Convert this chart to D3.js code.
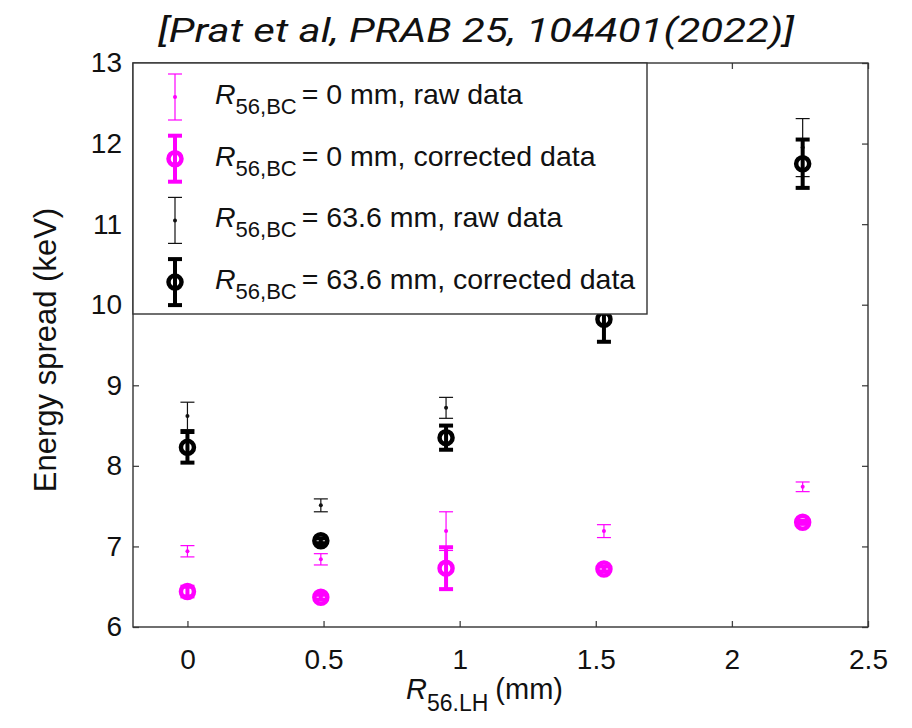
<!doctype html>
<html>
<head>
<meta charset="utf-8">
<title>Energy spread vs R56,LH</title>
<script src="https://cdn.jsdelivr.net/npm/d3@7"></script>
<style>
  body { margin: 0; background: white; }
  svg { display: block; }
  text { font-family: "Liberation Sans", Arial, sans-serif; fill: #111; }
</style>
</head>
<body>
<svg id="chart" width="912" height="728"></svg>
<script>
// data
var xPos = [0, 0.49, 0.95, 1.53, 2.26];
var pinkRaw = [6.94, 6.84, 7.19, 7.19, 7.74];
var pinkRawErr = [0.07, 0.07, 0.24, 0.08, 0.06];
var pinkCorr = [6.44, 6.37, 6.73, 6.72, 7.30];
var pinkCorrErr = [0.06, 0.03, 0.26, 0.03, 0.02];
var blackRaw = [8.62, 7.51, 8.72, 10.3, 11.95];
var blackRawErr = [0.17, 0.08, 0.13, 0.2, 0.36];
var blackCorr = [8.23, 7.07, 8.35, 9.82, 11.75];
var blackCorrErr = [0.19, 0.03, 0.15, 0.28, 0.30];

var xTicks = [0, 0.5, 1, 1.5, 2, 2.5];
var yTicks = [6, 7, 8, 9, 10, 11, 12, 13];
var legendLabels = ['= 0 mm, raw data', '= 0 mm, corrected data', '= 63.6 mm, raw data', '= 63.6 mm, corrected data'];

var PINK = '#ff00ff';
var pLeft = 133, pRight = 868, pTop = 63, pBottom = 627;

var svg = d3.select('#chart');
var x = d3.scaleLinear().domain([-0.2, 2.5]).range([pLeft, pRight]);
var y = d3.scaleLinear().domain([6, 13]).range([pBottom, pTop]);

// title
svg.append('text')
    .attr('x', 476).attr('y', 42)
    .attr('text-anchor', 'middle')
    .attr('textLength', 636)
    .attr('lengthAdjust', 'spacingAndGlyphs')
    .style('font-family', 'Roboto, sans-serif')
    .style('font-style', 'italic')
    .style('font-size', '34px')
    .text('[Prat et al, PRAB 25, 104401(2022)]');

// axes
svg.append('g').attr('transform', 'translate(0,' + pBottom + ')')
    .call(d3.axisBottom(x).tickValues(xTicks).tickSize(-6).tickPadding(22).tickFormat(d3.format('')));
svg.append('g').attr('transform', 'translate(' + pLeft + ',0)')
    .call(d3.axisLeft(y).tickValues(yTicks).tickSize(-6).tickPadding(11).tickFormat(d3.format('')));
svg.append('g').attr('transform', 'translate(0,' + pTop + ')')
    .call(d3.axisTop(x).tickValues(xTicks).tickSize(-6).tickFormat(''));
svg.append('g').attr('transform', 'translate(' + pRight + ',0)')
    .call(d3.axisRight(y).tickValues(yTicks).tickSize(-6).tickFormat(''));

svg.selectAll('.domain').remove();
svg.selectAll('.tick line').attr('stroke', '#444').attr('stroke-width', 1.3);
svg.selectAll('.tick text').style('font-size', '28px').style('font-family', '"Liberation Sans", Arial, sans-serif').attr('fill', '#111');

svg.append('rect')
    .attr('x', pLeft).attr('y', pTop)
    .attr('width', pRight - pLeft).attr('height', pBottom - pTop)
    .attr('fill', 'none').attr('stroke', '#333').attr('stroke-width', 1.4);

// axis titles
svg.append('text')
    .attr('transform', 'translate(56,350) rotate(-90)')
    .attr('text-anchor', 'middle')
    .style('font-size', '31px')
    .text('Energy spread (keV)');

var xt = svg.append('text')
    .attr('x', 406).attr('y', 699)
    .style('font-size', '29px');
xt.append('tspan').style('font-style', 'italic').text('R');
xt.append('tspan').attr('dy', 12).style('font-size', '23px').text('56.LH');
xt.append('tspan').attr('dy', -12).attr('dx', 7).text('(mm)');

// series
var series = [
  { vals: blackRaw, errs: blackRawErr, color: '#111', thick: false },
  { vals: blackCorr, errs: blackCorrErr, color: '#000', thick: true },
  { vals: pinkRaw, errs: pinkRawErr, color: PINK, thick: false },
  { vals: pinkCorr, errs: pinkCorrErr, color: PINK, thick: true }
];

function drawErrorBar(g, cx, cy, yLo, yHi, s) {
  var sw = s.thick ? 4 : 1.2;
  var cw = 7;
  g.append('line').attr('x1', cx).attr('x2', cx).attr('y1', yLo).attr('y2', yHi)
      .attr('stroke', s.color).attr('stroke-width', sw);
  [yLo, yHi].forEach(function (yy) {
    g.append('line').attr('x1', cx - cw).attr('x2', cx + cw).attr('y1', yy).attr('y2', yy)
        .attr('stroke', s.color).attr('stroke-width', sw);
  });
  if (s.thick) {
    g.append('circle').attr('cx', cx).attr('cy', cy).attr('r', 6.5)
        .attr('fill', 'none').attr('stroke', s.color).attr('stroke-width', 4.5);
  } else {
    g.append('circle').attr('cx', cx).attr('cy', cy).attr('r', 2).attr('fill', s.color);
  }
}

var dataG = svg.append('g');
series.forEach(function (s) {
  s.vals.forEach(function (v, i) {
    drawErrorBar(dataG, x(xPos[i]), y(v), y(v - s.errs[i]), y(v + s.errs[i]), s);
  });
});

// legend (drawn over the data)
var lg = svg.append('g');
lg.append('rect')
    .attr('x', pLeft).attr('y', pTop)
    .attr('width', 647 - pLeft).attr('height', 314 - pTop)
    .attr('fill', 'white').attr('stroke', '#333').attr('stroke-width', 1.4);

var legendOrder = [series[2], series[3], series[0], series[1]];
legendOrder.forEach(function (s, i) {
  var cy = 97 + i * 61.7;
  drawErrorBar(lg, 175, cy, cy + 23, cy - 23, s);
  var t = lg.append('text').attr('x', 215).attr('y', cy + 7).style('font-size', '28.5px');
  t.append('tspan').style('font-style', 'italic').text('R');
  t.append('tspan').attr('dy', 10).style('font-size', '22px').text('56,BC');
  t.append('tspan').attr('dy', -10).attr('dx', 5).text(legendLabels[i]);
});
</script>
</body>
</html>
